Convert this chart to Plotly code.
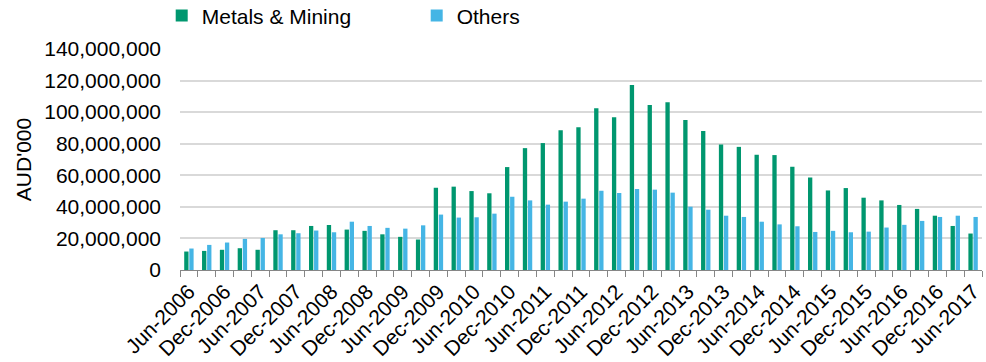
import plotly.graph_objects as go

# Quarterly periods, Jun-2006 .. Jun-2017
months = ["Jun", "Sep", "Dec", "Mar"]
periods = []
y, m = 2006, 0
for i in range(45):
    periods.append(f"{months[m]}-{y}")
    m += 1
    if m == 3:
        y += 1
    if m == 4:
        m = 0

metals_mining = [
    11.7, 12.1, 12.8, 13.8, 12.8, 25.2, 25.2, 27.9, 28.5, 25.6,
    24.8, 22.6, 21.0, 19.3, 52.1, 52.8, 50.0, 48.6, 65.2, 77.2,
    80.4, 88.6, 90.5, 102.5, 96.8, 117.2, 104.6, 106.3, 95.1, 88.0,
    79.5, 78.0, 73.0, 72.8, 65.4, 58.6, 50.4, 51.9, 45.8, 44.1,
    41.2, 38.7, 34.4, 27.9, 23.1,
]
others = [
    13.6, 15.9, 17.4, 19.7, 20.3, 22.6, 23.3, 25.0, 23.9, 30.6,
    27.9, 26.7, 26.2, 28.3, 35.1, 33.2, 33.4, 35.7, 46.4, 44.1,
    41.4, 43.3, 45.2, 50.2, 48.8, 51.3, 50.9, 49.0, 40.1, 38.2,
    34.4, 33.6, 30.6, 28.9, 27.7, 24.1, 24.8, 23.9, 24.3, 26.9,
    28.6, 31.1, 33.6, 34.4, 33.6,
]
metals_mining = [v * 1e6 for v in metals_mining]
others = [v * 1e6 for v in others]

x_idx = list(range(len(periods)))
label_idx = x_idx[::2]
label_txt = [periods[i] for i in label_idx]

font_family = "Liberation Sans, Arial, sans-serif"
GREEN = "#00976F"
BLUE = "#45B5E5"

fig = go.Figure()
fig.add_trace(go.Bar(x=x_idx, y=metals_mining, name="Metals & Mining",
                     marker=dict(color=GREEN, line=dict(width=0))))
fig.add_trace(go.Bar(x=x_idx, y=others, name="Others",
                     marker=dict(color=BLUE, line=dict(width=0))))

fig.update_layout(
    width=986, height=362,
    margin=dict(l=180, r=4, t=49, b=92, autoexpand=False),
    paper_bgcolor="white", plot_bgcolor="white",
    barmode="group", bargap=0.43, bargroupgap=0.15,
    font=dict(family=font_family, size=21, color="#000000"),
    legend=dict(orientation="h", x=0.164, y=0.956, xanchor="left", yanchor="middle",
                xref="container", yref="container",
                font=dict(size=21), entrywidth=210, entrywidthmode="pixels",
                itemwidth=30, bgcolor="rgba(0,0,0,0)"),
    showlegend=True,
)

fig.update_xaxes(
    automargin=False,
    range=[-0.5, len(periods) - 0.5],
    tickmode="array", tickvals=label_idx, ticktext=label_txt,
    tickangle=-45, ticks="", showgrid=False,
    showline=True, linecolor="#868686", linewidth=1,
    tickfont=dict(size=21),
    minor=dict(ticks="outside", tick0=-0.5, dtick=1, ticklen=6,
               tickcolor="#868686", tickwidth=1, showgrid=False),
    ticklabelstandoff=0,
)
fig.update_yaxes(
    automargin=False,
    range=[0, 140e6], tick0=0, dtick=20e6, tickformat=",d",
    showgrid=True, gridcolor="#D9D9D9", gridwidth=1.5,
    zeroline=False, showline=False, ticks="",
    tickfont=dict(size=21), ticklabelstandoff=18,
    title=dict(text="AUD'000", font=dict(size=21), standoff=6),
)

fig.write_html("out.html")
